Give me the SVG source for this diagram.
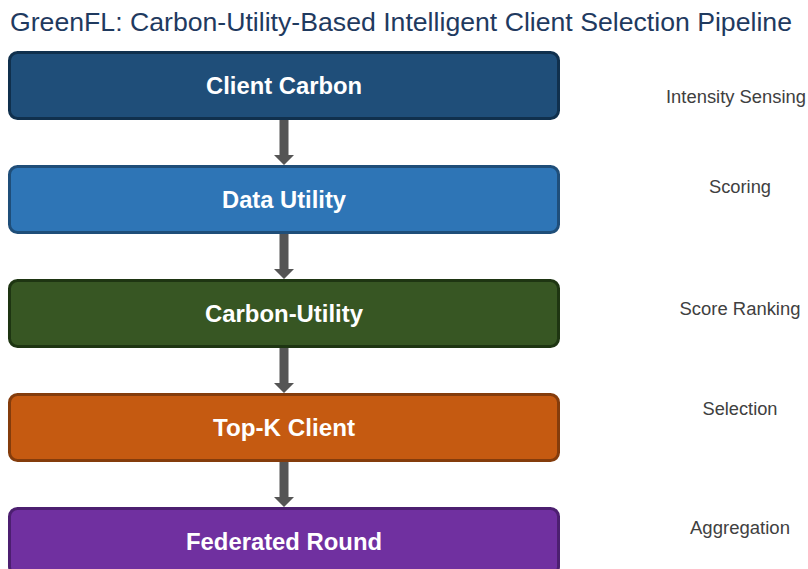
<svg xmlns="http://www.w3.org/2000/svg" width="808" height="569" viewBox="0 0 808 569">
  <style>
    .title { font-family: "Liberation Sans", Arial, sans-serif; font-size: 25.5px; fill: #1f3a5f; }
    .box { stroke-width: 3; }
    .label { font-family: "Liberation Sans", Arial, sans-serif; font-size: 23px; font-weight: bold; fill: #ffffff; text-anchor: middle; }
    .side { font-family: "Liberation Sans", Arial, sans-serif; font-size: 17.5px; fill: #404040; text-anchor: middle; }
    .conn { fill: #555555; }
  </style>
  <rect width="808" height="569" fill="#ffffff"/>
  <text class="title" x="10" y="31" textLength="782" lengthAdjust="spacingAndGlyphs">GreenFL: Carbon-Utility-Based Intelligent Client Selection Pipeline</text>

  <g id="connectors">
    <path class="conn" d="M279.5,120 H288.5 V155 H294 L284,165 L274,155 H279.5 Z"/>
    <path class="conn" d="M279.5,234 H288.5 V269 H294 L284,279 L274,269 H279.5 Z"/>
    <path class="conn" d="M279.5,348 H288.5 V383 H294 L284,393 L274,383 H279.5 Z"/>
    <path class="conn" d="M279.5,462 H288.5 V497 H294 L284,507 L274,497 H279.5 Z"/>
  </g>

  <g id="client-carbon">
    <rect class="box" x="9.5" y="52.5" width="549" height="66" rx="8" fill="#1f4e79" stroke="#10304d"/>
    <text class="label" x="284" y="94" textLength="156" lengthAdjust="spacingAndGlyphs">Client Carbon</text>
    <text class="side" x="736" y="103" textLength="140" lengthAdjust="spacingAndGlyphs">Intensity Sensing</text>
  </g>

  <g id="data-utility">
    <rect class="box" x="9.5" y="166.5" width="549" height="66" rx="8" fill="#2e75b6" stroke="#1f4e79"/>
    <text class="label" x="284" y="208" textLength="124" lengthAdjust="spacingAndGlyphs">Data Utility</text>
    <text class="side" x="740" y="193" textLength="62" lengthAdjust="spacingAndGlyphs">Scoring</text>
  </g>

  <g id="carbon-utility">
    <rect class="box" x="9.5" y="280.5" width="549" height="66" rx="8" fill="#375623" stroke="#1e3512"/>
    <text class="label" x="284" y="322" textLength="158" lengthAdjust="spacingAndGlyphs">Carbon-Utility</text>
    <text class="side" x="740" y="315" textLength="121" lengthAdjust="spacingAndGlyphs">Score Ranking</text>
  </g>

  <g id="top-k-client">
    <rect class="box" x="9.5" y="394.5" width="549" height="66" rx="8" fill="#c55a11" stroke="#843c0c"/>
    <text class="label" x="284" y="436" textLength="142" lengthAdjust="spacingAndGlyphs">Top-K Client</text>
    <text class="side" x="740" y="415" textLength="75" lengthAdjust="spacingAndGlyphs">Selection</text>
  </g>

  <g id="federated-round">
    <rect class="box" x="9.5" y="508.5" width="549" height="66" rx="8" fill="#7030a0" stroke="#4c1f70"/>
    <text class="label" x="284" y="550" textLength="196" lengthAdjust="spacingAndGlyphs">Federated Round</text>
    <text class="side" x="740" y="534" textLength="100" lengthAdjust="spacingAndGlyphs">Aggregation</text>
  </g>
</svg>
